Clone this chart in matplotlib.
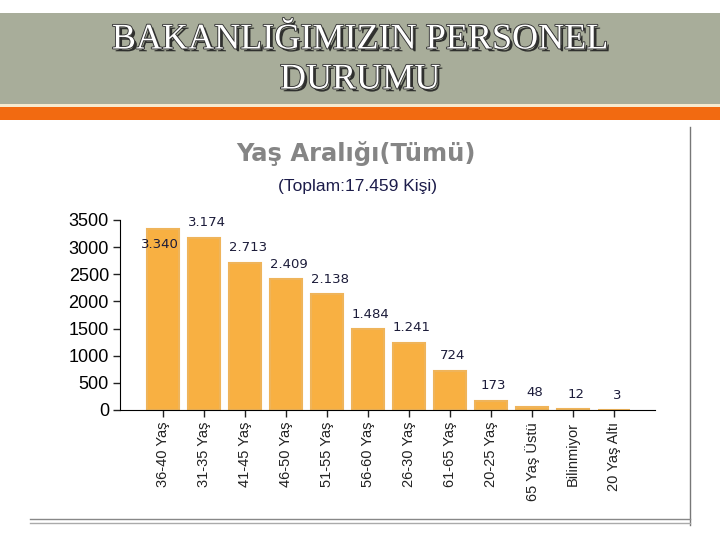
import matplotlib.pyplot as plt
import matplotlib.patheffects as pe
from matplotlib.patches import Rectangle

# age groups and head counts
categories = ['36-40 Yaş', '31-35 Yaş', '41-45 Yaş', '46-50 Yaş', '51-55 Yaş', '56-60 Yaş',
              '26-30 Yaş', '61-65 Yaş', '20-25 Yaş', '65 Yaş Üstü', 'Bilinmiyor', '20 Yaş Altı']
counts = [3340, 3174, 2713, 2409, 2138, 1484, 1241, 724, 173, 48, 12, 3]
count_labels = ['3.340', '3.174', '2.713', '2.409', '2.138', '1.484',
                '1.241', '724', '173', '48', '12', '3']
y_ticks = [0, 500, 1000, 1500, 2000, 2500, 3000, 3500]

W, H = 720, 540
fig = plt.figure(figsize=(7.2, 5.4), dpi=100)

# background layer in pixel coords for the slide decoration
bg = fig.add_axes([0, 0, 1, 1], zorder=0)
bg.set_xlim(0, W)
bg.set_ylim(H, 0)
bg.axis('off')
bg.add_patch(Rectangle((0, 13), W, 91, color='#a8ad9a', lw=0))
bg.add_patch(Rectangle((0, 104), W, 3, color='#f6ead0', lw=0))
bg.add_patch(Rectangle((0, 107), W, 13, color='#f26a11', lw=0))
bg.plot([690, 690], [127, 525], color='#777777', lw=1)
bg.plot([30, 690], [519, 519], color='#888888', lw=1)
bg.plot([30, 690], [523, 523], color='#aaaaaa', lw=1)

fx = pe.SimplePatchShadow(offset=(2, -2), shadow_rgbFace='#222222', alpha=0.9)
head_fx = [fx, pe.Stroke(linewidth=1.3, foreground='#333333'), pe.Normal()]
bg.text(360, 40, 'BAKANLIĞIMIZIN PERSONEL', ha='center', va='center', fontsize=26,
        family='Liberation Serif', color='white', path_effects=head_fx)
bg.text(360, 80, 'DURUMU', ha='center', va='center', fontsize=26,
        family='Liberation Serif', color='white', path_effects=head_fx)

bg.text(356, 154, 'Yaş Aralığı(Tümü)', ha='center', va='center', fontsize=17.5,
        fontweight='bold', color='#858585', family='DejaVu Sans')
bg.text(357, 187, '(Toplam:17.459 Kişi)', ha='center', va='center', fontsize=12.5,
        color='#1c1c4a', family='Liberation Sans')

# the bar chart itself
ax = fig.add_axes([120 / W, (H - 410) / H, 535 / W, 190 / H], zorder=1)
ax.patch.set_alpha(0)
x = list(range(len(categories)))
ax.bar(x, counts, width=0.8, color='#f8b042', edgecolor='#efb45a', linewidth=1.5)
ax.set_xlim(-1.05, 12.0)
ax.set_ylim(0, 3500)
ax.set_yticks(y_ticks)
ax.set_yticklabels([str(v) for v in y_ticks], family='Liberation Sans', fontsize=13)
ax.set_xticks(x)
ax.set_xticklabels(categories, rotation=90, family='Liberation Sans', fontsize=10.5, color='#222222')
ax.spines['top'].set_visible(False)
ax.spines['right'].set_visible(False)
ax.tick_params(axis='both', length=5, width=1, color='#222222')
ax.tick_params(axis='y', pad=3)

for i, (v, lab) in enumerate(zip(counts, count_labels)):
    dy = -16 if i == 0 else 6
    dx = -2 if i == 0 else 2
    ax.annotate(lab, (i, v), xytext=(dx, dy), textcoords='offset points', ha='center',
                va='bottom', fontsize=9.5, color='#1c1c3a', family='DejaVu Sans')

fig.savefig('out.png', dpi=100)
